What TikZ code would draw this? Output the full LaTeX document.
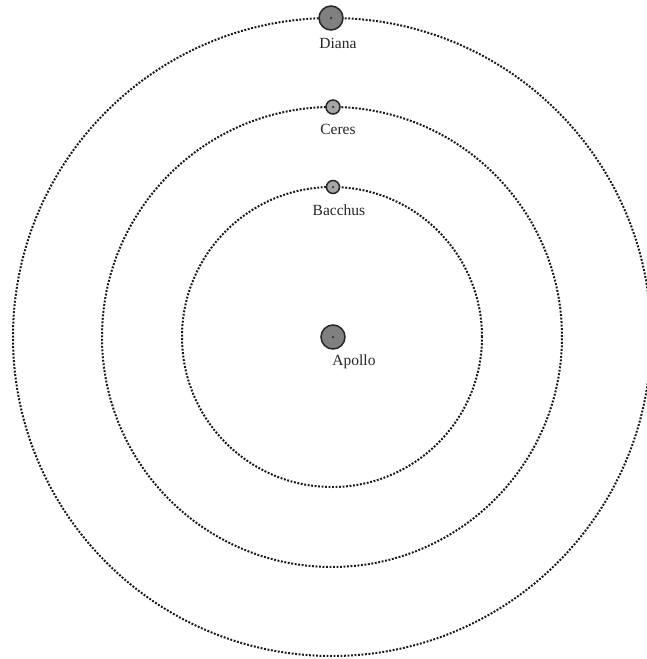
\documentclass[tikz,border=0pt]{standalone}
\usepackage{fontspec}
\setmainfont{Liberation Serif}
\begin{document}
\begin{tikzpicture}[x=1pt,y=1pt,
  orbit/.style={draw=black!90, line width=2pt, dash pattern=on 1.9pt off 1.6pt},
  planet/.style={circle, draw=black!85, line width=1.5pt, fill=black!50, inner sep=0pt},
  core/.style={circle, fill=black!80, inner sep=0pt, minimum size=2.5pt},
  lbl/.style={font=\fontsize{15.5}{17}\selectfont, text=black!85, inner sep=0pt}]
\useasboundingbox (0,0) rectangle (646,-659);
\coordinate (c) at (332,-337);
\draw[orbit] (c) circle[radius=150];
\draw[orbit] (c) circle[radius=230];
\draw[orbit] (c) circle[radius=319];
% planets
\node[planet, minimum size=24pt] (apollo) at (333,-337) {};
\node[core] at (apollo) {};
\node[planet, minimum size=13pt, fill=black!35] (bacchus) at (333,-187) {};
\node[core] at (bacchus) {};
\node[planet, minimum size=14pt, fill=black!35] (ceres) at (333,-107) {};
\node[core] at (ceres) {};
\node[planet, minimum size=24pt] (diana) at (331,-18) {};
\node[core] at (diana) {};
% labels
\node[lbl] (ldiana) at (338,-43) {Diana};
\node[lbl] (lceres) at (338,-129) {Ceres};
\node[lbl] (lbacchus) at (339,-210) {Bacchus};
\node[lbl] (lapollo) at (354,-362) {Apollo};
\end{tikzpicture}
\end{document}
